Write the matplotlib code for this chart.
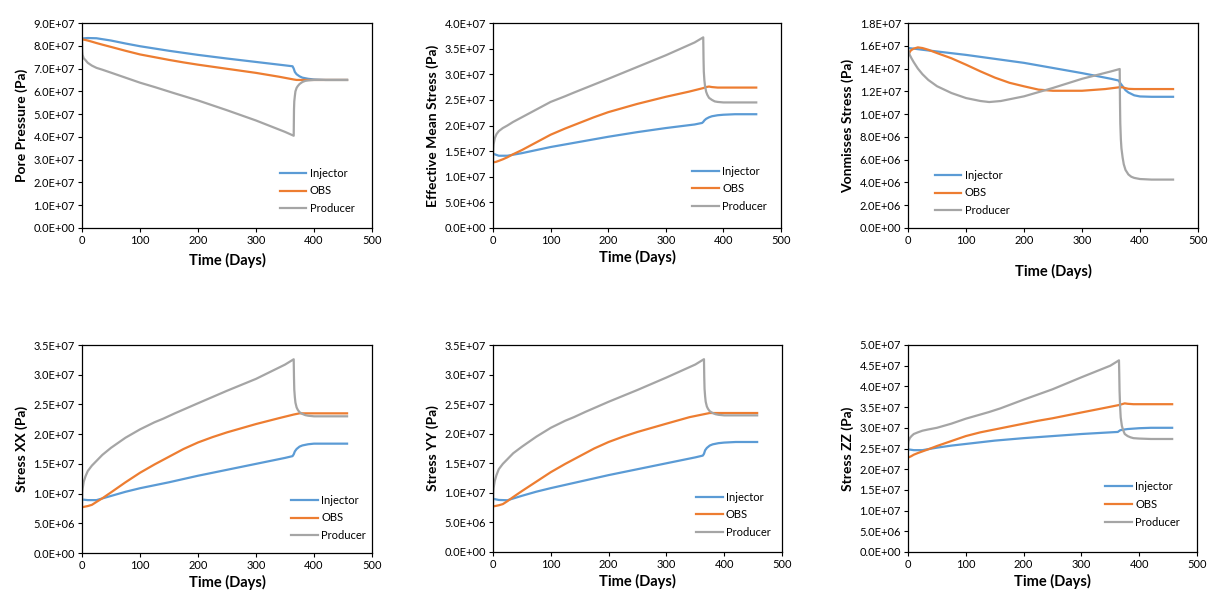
import numpy as np
import matplotlib.pyplot as plt
from matplotlib.ticker import FuncFormatter, MultipleLocator

plt.rcParams['font.family'] = ['Lato', 'DejaVu Sans']

# ---------------------------------------------------------------
# data (time in days, values in 1e7 Pa)
# ---------------------------------------------------------------
UNIT = 1e7

t_inj = [0, 10, 25, 50, 75, 100, 150, 200, 250, 300, 350, 363, 365, 367, 370, 375, 380, 390,
         400, 420, 457]
t_obs = [0, 5, 10, 17, 25, 35, 50, 75, 100, 125, 150, 175, 200, 225, 250, 300, 340, 365, 370,
         375, 380, 390, 400, 457]
t_pro = [0, 0.5, 1, 3, 6, 10, 17, 25, 35, 50, 75, 100, 125, 140, 160, 200, 250, 300, 350, 365,
         365.5, 366, 367, 368, 370, 372, 375, 380, 385, 390, 400, 420, 457]

# pore pressure
pp_inj = [8.32, 8.34, 8.33, 8.23, 8.10, 7.98, 7.78, 7.60, 7.44, 7.29, 7.14, 7.10, 7.00, 6.85,
          6.75, 6.66, 6.60, 6.55, 6.52, 6.50, 6.50]
pp_obs = [8.28, 8.26, 8.23, 8.18, 8.12, 8.05, 7.95, 7.78, 7.62, 7.50, 7.38, 7.27, 7.17, 7.08,
          6.99, 6.81, 6.64, 6.52, 6.50, 6.50, 6.50, 6.50, 6.50, 6.50]
pp_pro = [8.25, 7.75, 7.60, 7.45, 7.37, 7.25, 7.13, 7.03, 6.95, 6.82, 6.60, 6.38, 6.19, 6.07,
          5.91, 5.60, 5.17, 4.72, 4.22, 4.05, 5.20, 5.56, 5.80, 6.00, 6.15, 6.23, 6.32, 6.41,
          6.46, 6.48, 6.50, 6.50, 6.50]

# effective mean stress
em_inj = [1.45, 1.41, 1.41, 1.46, 1.52, 1.58, 1.68, 1.78, 1.87, 1.95, 2.02, 2.05, 2.07, 2.10,
          2.13, 2.16, 2.18, 2.20, 2.21, 2.22, 2.22]
em_obs = [1.28, 1.29, 1.31, 1.34, 1.38, 1.44, 1.52, 1.67, 1.82, 1.94, 2.05, 2.16, 2.26, 2.34,
          2.42, 2.56, 2.66, 2.73, 2.75, 2.76, 2.75, 2.74, 2.74, 2.74]
em_pro = [1.30, 1.55, 1.63, 1.75, 1.83, 1.89, 1.95, 2.00, 2.07, 2.16, 2.31, 2.46, 2.57, 2.64,
          2.73, 2.91, 3.14, 3.37, 3.62, 3.72, 3.30, 3.05, 2.88, 2.78, 2.66, 2.60, 2.54, 2.50,
          2.47, 2.46, 2.45, 2.45, 2.45]

# von mises stress
vm_inj = [1.580, 1.575, 1.565, 1.550, 1.535, 1.520, 1.485, 1.450, 1.405, 1.360, 1.310, 1.295,
          1.280, 1.265, 1.245, 1.210, 1.190, 1.165, 1.155, 1.152, 1.152]
vm_obs = [1.520, 1.560, 1.575, 1.586, 1.580, 1.565, 1.536, 1.490, 1.434, 1.375, 1.320, 1.275,
          1.244, 1.215, 1.205, 1.205, 1.220, 1.236, 1.235, 1.228, 1.222, 1.220, 1.220, 1.220]
vm_pro = [1.580, 1.560, 1.550, 1.520, 1.490, 1.455, 1.400, 1.350, 1.300, 1.245, 1.185, 1.141,
          1.115, 1.106, 1.115, 1.156, 1.230, 1.310, 1.375, 1.396, 1.100, 0.920, 0.780, 0.700,
          0.620, 0.560, 0.510, 0.470, 0.450, 0.440, 0.430, 0.425, 0.425]

# stress xx
sx_inj = [0.90, 0.89, 0.89, 0.96, 1.03, 1.09, 1.19, 1.30, 1.40, 1.50, 1.60, 1.63, 1.66, 1.71,
          1.75, 1.79, 1.81, 1.83, 1.84, 1.84, 1.84]
sx_obs = [0.77, 0.78, 0.79, 0.81, 0.86, 0.92, 1.02, 1.19, 1.35, 1.49, 1.62, 1.75, 1.86, 1.95,
          2.03, 2.17, 2.27, 2.33, 2.34, 2.35, 2.35, 2.35, 2.35, 2.35]
sx_pro = [0.78, 1.00, 1.08, 1.20, 1.29, 1.38, 1.47, 1.55, 1.65, 1.77, 1.94, 2.08, 2.20, 2.26,
          2.35, 2.52, 2.73, 2.93, 3.17, 3.26, 2.95, 2.75, 2.62, 2.53, 2.45, 2.41, 2.37, 2.34,
          2.32, 2.31, 2.30, 2.30, 2.30]

# stress yy
sy_inj = [0.90, 0.88, 0.875, 0.95, 1.02, 1.08, 1.19, 1.30, 1.40, 1.50, 1.60, 1.63, 1.66, 1.72,
          1.76, 1.80, 1.82, 1.84, 1.85, 1.86, 1.86]
sy_obs = [0.77, 0.78, 0.79, 0.81, 0.86, 0.93, 1.03, 1.19, 1.35, 1.49, 1.62, 1.75, 1.86, 1.95,
          2.03, 2.17, 2.28, 2.33, 2.34, 2.35, 2.35, 2.35, 2.35, 2.35]
sy_pro = [0.78, 1.00, 1.08, 1.20, 1.30, 1.40, 1.49, 1.57, 1.67, 1.78, 1.95, 2.10, 2.22, 2.28,
          2.37, 2.54, 2.74, 2.95, 3.17, 3.26, 2.95, 2.76, 2.63, 2.54, 2.46, 2.42, 2.38, 2.35,
          2.33, 2.32, 2.31, 2.31, 2.31]

# stress zz
sz_inj = [2.48, 2.46, 2.46, 2.52, 2.57, 2.61, 2.69, 2.75, 2.80, 2.85, 2.89, 2.90, 2.92, 2.94,
          2.95, 2.96, 2.97, 2.98, 2.99, 3.00, 3.00]
sz_obs = [2.28, 2.31, 2.35, 2.39, 2.43, 2.48, 2.56, 2.68, 2.80, 2.89, 2.96, 3.03, 3.10, 3.17,
          3.23, 3.37, 3.48, 3.55, 3.57, 3.59, 3.58, 3.57, 3.57, 3.57]
sz_pro = [2.45, 2.62, 2.68, 2.75, 2.80, 2.85, 2.89, 2.93, 2.96, 3.00, 3.10, 3.22, 3.32, 3.38,
          3.47, 3.68, 3.93, 4.22, 4.50, 4.63, 4.30, 3.90, 3.50, 3.25, 3.05, 2.95, 2.85, 2.80,
          2.77, 2.75, 2.74, 2.73, 2.73]

labels = ["Injector", "OBS", "Producer"]
colors = ["#5B9BD5", "#ED7D31", "#A5A5A5"]

panels = [
    # ylabel, series, ymax, ystep, axes box in px, legend anchor, xlabel pad
    ("Pore Pressure (Pa)", (pp_inj, pp_obs, pp_pro), 9e7, 1e7, (82, 23, 372, 228), (0.655, 0.03), 5),
    ("Effective Mean Stress (Pa)", (em_inj, em_obs, em_pro), 4e7, 5e6, (493, 23, 781, 228), (0.665, 0.04), 3),
    ("Vonmisses Stress (Pa)", (vm_inj, vm_obs, vm_pro), 1.8e7, 2e6, (908, 23, 1198, 228), (0.065, 0.02), 13),
    ("Stress XX (Pa)", (sx_inj, sx_obs, sx_pro), 3.5e7, 5e6, (82, 345, 372, 553), (0.695, 0.02), 3),
    ("Stress YY (Pa)", (sy_inj, sy_obs, sy_pro), 3.5e7, 5e6, (493, 345, 782, 552), (0.675, 0.03), 3),
    ("Stress ZZ (Pa)", (sz_inj, sz_obs, sz_pro), 5e7, 5e6, (908, 345, 1197, 552), (0.655, 0.08), 3),
]

W, H = 1216, 606
fig = plt.figure(figsize=(W / 100, H / 100), dpi=100)

sci = FuncFormatter(lambda v, p: f"{v:.1E}")

for ylab, series, ymax, ystep, (x0, y0, x1, y1), anchor, xpad in panels:
    ax = fig.add_axes([x0 / W, 1 - y1 / H, (x1 - x0) / W, (y1 - y0) / H])
    for tt, vals, lab, c in zip((t_inj, t_obs, t_pro), series, labels, colors):
        ax.plot(tt, np.array(vals) * UNIT, color=c, lw=1.6, label=lab)
    ax.set_xlim(0, 500)
    ax.set_ylim(0, ymax)
    ax.xaxis.set_major_locator(MultipleLocator(100))
    ax.yaxis.set_major_locator(MultipleLocator(ystep))
    ax.yaxis.set_major_formatter(sci)
    ax.tick_params(axis='both', labelsize=8, length=3, width=0.8, colors='black', pad=2)
    for s in ax.spines.values():
        s.set_linewidth(0.9)
        s.set_color('black')
    ax.set_xlabel("Time (Days)", fontsize=10.5, fontweight='bold', labelpad=xpad)
    ax.set_ylabel(ylab, fontsize=10, fontweight='bold', labelpad=4)
    ax.legend(loc='lower left', bbox_to_anchor=anchor, frameon=False, fontsize=8,
              handlelength=2.4, handletextpad=0.3, labelspacing=0.6, borderpad=0.2)

fig.savefig("out.png", dpi=100)
